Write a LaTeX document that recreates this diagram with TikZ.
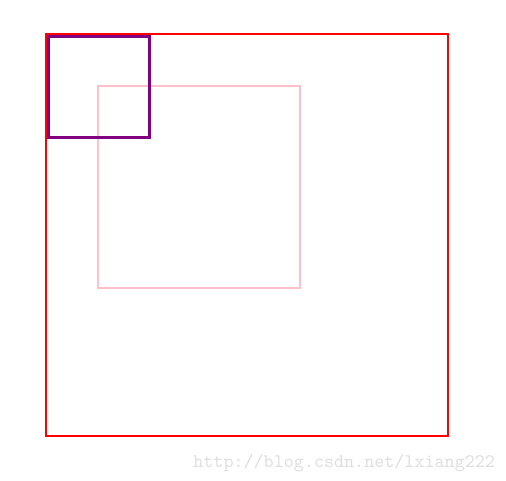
\documentclass[tikz,border=0pt]{standalone}
\usepackage{xcolor}
\definecolor{boxred}{RGB}{255,0,0}
\definecolor{boxpink}{RGB}{255,192,203}
\definecolor{boxpurple}{RGB}{128,0,128}
\definecolor{markgray}{RGB}{222,222,222}
\tikzset{
  frame/.style={line width=1.1pt},
}
\begin{document}
\begin{tikzpicture}[x=0.02cm, y=-0.02cm]
\useasboundingbox (0,0) rectangle (506,480);
% outer square
\draw[frame, boxred] (46,34) rectangle (448,436);
% middle square
\draw[frame, boxpink] (98,86) rectangle (300,288);
% small square
\draw[frame, boxpurple, line width=1.4pt] (48.5,36.5) rectangle (149.5,137.5);
\node[anchor=base west, inner sep=0pt, font=\ttfamily\fontsize{10.9pt}{11pt}\selectfont, text=markgray] (mark) at (193,467) {http://blog.csdn.net/lxiang222};
\end{tikzpicture}
\end{document}
